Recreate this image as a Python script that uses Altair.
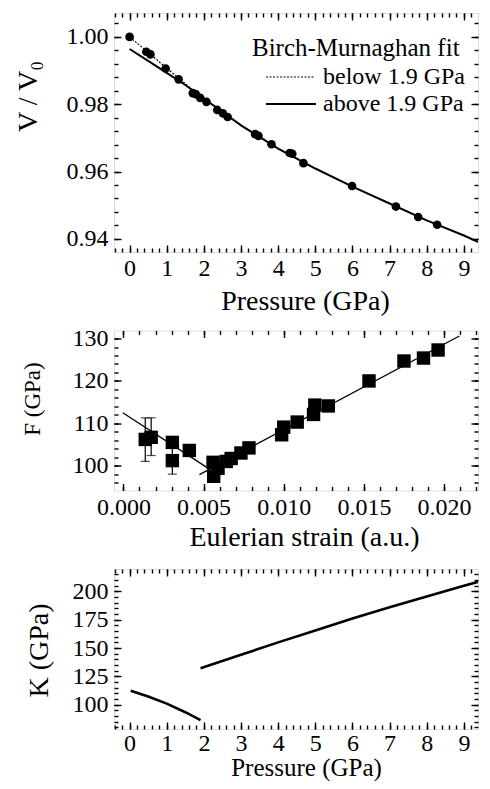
import altair as alt
import pandas as pd

FONT = "Liberation Serif"
INK = "black"

# ---------------- Panel 1: V/V0 versus pressure ----------------
p_meas = [0.00, 0.45, 0.56, 0.97, 1.32, 1.70, 1.78, 1.90, 2.07, 2.36, 2.51, 2.64,
          3.38, 3.47, 3.82, 4.31, 4.38, 4.68, 5.99, 7.17, 7.77, 8.28]
v_meas = [1.0000, 0.9956, 0.9948, 0.9906, 0.9874, 0.9833, 0.9830, 0.9819, 0.9807, 0.9783, 0.9773, 0.9762,
          0.9711, 0.9706, 0.9681, 0.9655, 0.9653, 0.9625, 0.9557, 0.9496, 0.9465, 0.9442]
p_fit_below = [0.0, 0.5, 1.0, 1.5, 1.9]
v_fit_below = [1.0000, 0.9954, 0.9907, 0.9861, 0.9822]
p_fit_above = [0.0, 0.5, 1.0, 1.5, 2.0, 3.0, 4.0, 5.0, 6.0, 7.0, 8.0, 9.0, 9.4]
v_fit_above = [0.9964, 0.9929, 0.9893, 0.9857, 0.9817, 0.9737, 0.9668, 0.9609, 0.9555, 0.9505, 0.9455, 0.9410, 0.9390]

# ---------------- Panel 2: F versus Eulerian strain ----------------
strain = [0.00136, 0.00173, 0.00305, 0.00305, 0.00411, 0.00559, 0.00563, 0.00590, 0.00641, 0.00672,
          0.00733, 0.00783, 0.00987, 0.01000, 0.01084, 0.01186, 0.01194, 0.01278, 0.01532, 0.01750,
          0.01872, 0.01963]
f_norm = [106.2, 106.7, 105.5, 101.2, 103.6, 100.8, 97.5, 99.4, 101.0, 101.7,
          103.0, 104.2, 107.3, 109.1, 110.3, 112.1, 114.3, 114.1, 120.0, 124.7,
          125.4, 127.3]
err_strain = [0.00136, 0.00173, 0.00305]
err_low = [101.0, 102.4, 98.0]
err_high = [111.3, 111.3, 104.4]
fit_left_strain = [-0.00004, 0.00520]
fit_left_f = [112.5, 99.6]
fit_right_strain = [0.00474, 0.02096]
fit_right_f = [97.9, 130.6]

# ---------------- Panel 3: K versus pressure ----------------
p_k_below = [0.03, 0.5, 1.0, 1.5, 1.91]
k_below = [112.3, 107.2, 101.0, 93.4, 86.5]
p_k_above = [1.91, 3.0, 4.0, 5.0, 6.0, 7.0, 8.0, 9.0, 9.4]
k_above = [132.1, 144.0, 155.0, 165.5, 176.0, 186.0, 195.5, 205.0, 208.6]

def inside(vals, dom):
    return [v for v in vals if dom[0] <= v <= dom[1]]

def steps(start, stop, step, nd):
    out, i = [], 0
    while True:
        v = round(start + i * step, nd)
        if v > stop + 1e-12:
            break
        out.append(v)
        i += 1
    return out

W = 364
H1, H2, H3 = 239, 160, 160
MAJ, MIN = 7, 4

def label_axis(orient, values, fmt, title, tsize, tx, ty, lpad):
    return alt.Axis(orient=orient, values=values, format=fmt, ticks=False, domain=False, grid=False,
                    labelFont=FONT, labelFontSize=24, labelColor=INK, labelPadding=lpad,
                    labelOverlap=False, labelFlush=False, minExtent=0,
                    title=title, titleFont=FONT, titleFontSize=tsize, titleFontWeight="normal",
                    titleColor=INK, titleX=tx, titleY=ty, titleAlign="center", titleBaseline="middle",
                    titleAngle=270 if orient == "left" else 0)

def tick_axis(side, values, size, h):
    # inward ticks: every tick axis sits on the bottom or left side and is moved into place
    if side == "bottom":
        orient, off = "bottom", -size
    elif side == "top":
        orient, off = "bottom", -h
    elif side == "left":
        orient, off = "left", -size
    else:
        orient, off = "left", -W
    return alt.Axis(orient=orient, values=values, ticks=True, tickSize=size, tickWidth=1.4,
                    tickColor=INK, offset=off, labels=False, domain=False, grid=False, title=None,
                    minExtent=0, maxExtent=size)

# ---------------- Panel 1 ----------------
xd1 = [-0.42, 9.38]
yd1 = [0.9361, 1.0071]
xs1 = alt.Scale(domain=xd1, nice=False, zero=False)
ys1 = alt.Scale(domain=yd1, nice=False, zero=False)
p_major = list(range(0, 10))
p_minor = inside(steps(-0.4, 9.4, 0.2, 1), xd1)
v_major = [0.94, 0.96, 0.98, 1.00]
v_minor = inside(steps(0.936, 1.008, 0.004, 3), yd1)

df_meas = pd.DataFrame({"P": p_meas, "V": v_meas})
df_below = pd.DataFrame({"P": p_fit_below, "V": v_fit_below})
df_above = pd.DataFrame({"P": p_fit_above, "V": v_fit_above})
one = pd.DataFrame({"k": [0]})

l1_above = alt.Chart(df_above).mark_line(color=INK, strokeWidth=2, clip=True).encode(
    x=alt.X("P:Q", scale=xs1, axis=tick_axis("bottom", p_major, MAJ, H1)),
    y=alt.Y("V:Q", scale=ys1, axis=tick_axis("left", v_major, MAJ, H1)))
l1_below = alt.Chart(df_below).mark_line(color=INK, strokeWidth=1.2, strokeDash=[2, 1.5], clip=True).encode(
    x=alt.X("P:Q", scale=xs1, axis=tick_axis("top", p_major, MAJ, H1)),
    y=alt.Y("V:Q", scale=ys1, axis=tick_axis("right", v_major, MAJ, H1)))
l1_pts = alt.Chart(df_meas).mark_circle(size=75, color=INK, opacity=1).encode(
    x=alt.X("P:Q", scale=xs1, axis=label_axis("bottom", p_major, "d", "Pressure  (GPa)", 28, 191, 49, 4)),
    y=alt.Y("V:Q", scale=ys1, axis=label_axis("left", v_major, ".2f", "V / V₀", 28, -85.5, 83, 6)))
l1_inv_a = alt.Chart(df_meas).mark_point(opacity=0).encode(
    x=alt.X("P:Q", scale=xs1, axis=tick_axis("bottom", p_minor, MIN, H1)),
    y=alt.Y("V:Q", scale=ys1, axis=tick_axis("left", v_minor, MIN, H1)))
l1_inv_b = alt.Chart(df_meas).mark_point(opacity=0).encode(
    x=alt.X("P:Q", scale=xs1, axis=tick_axis("top", p_minor, MIN, H1)),
    y=alt.Y("V:Q", scale=ys1, axis=tick_axis("right", v_minor, MIN, H1)))

leg_title = alt.Chart(one).mark_text(text="Birch-Murnaghan fit", font=FONT, fontSize=25, align="left",
                                      baseline="middle", color=INK).encode(x=alt.value(138), y=alt.value(35))
leg_t1 = alt.Chart(one).mark_text(text="below 1.9 GPa", font=FONT, fontSize=24, align="left",
                                   baseline="middle", color=INK).encode(x=alt.value(209), y=alt.value(64))
leg_t2 = alt.Chart(one).mark_text(text="above 1.9 GPa", font=FONT, fontSize=24, align="left",
                                   baseline="middle", color=INK).encode(x=alt.value(209), y=alt.value(91))
leg_r1 = alt.Chart(one).mark_rule(color=INK, strokeWidth=1.2, strokeDash=[2, 1.5]).encode(
    x=alt.value(152), x2=alt.value(200), y=alt.value(64))
leg_r2 = alt.Chart(one).mark_rule(color=INK, strokeWidth=2).encode(
    x=alt.value(152), x2=alt.value(202), y=alt.value(91))

panel1 = alt.layer(l1_above, l1_below, l1_pts, l1_inv_a, l1_inv_b,
                   leg_title, leg_t1, leg_t2, leg_r1, leg_r2).resolve_scale(
    x="shared", y="shared").resolve_axis(x="independent", y="independent").properties(width=W, height=H1)

# ---------------- Panel 2 ----------------
xd2 = [-0.00059, 0.02212]
yd2 = [94.15, 131.9]
xs2 = alt.Scale(domain=xd2, nice=False, zero=False)
ys2 = alt.Scale(domain=yd2, nice=False, zero=False)
e_major = [0.0, 0.005, 0.010, 0.015, 0.020]
e_minor = inside(steps(0.0, 0.022, 0.001, 3), xd2)
f_major = [100, 110, 120, 130]
f_minor = inside(steps(96, 130, 2, 0), yd2)

df_sq = pd.DataFrame({"e": strain, "F": f_norm})
df_err = pd.DataFrame({"e": err_strain, "lo": err_low, "hi": err_high})
df_cap = pd.DataFrame({"e": err_strain + err_strain, "F": err_low + err_high})
df_fit2 = pd.DataFrame({"e": fit_left_strain + fit_right_strain, "F": fit_left_f + fit_right_f,
                        "seg": ["a", "a", "b", "b"]})

l2_fit = alt.Chart(df_fit2).mark_line(color=INK, strokeWidth=1.3, clip=True).encode(
    x=alt.X("e:Q", scale=xs2, axis=tick_axis("bottom", e_minor, MIN, H2)),
    y=alt.Y("F:Q", scale=ys2, axis=tick_axis("left", f_minor, MIN, H2)),
    detail="seg:N")
l2_err = alt.Chart(df_err).mark_rule(color=INK, strokeWidth=1.2).encode(
    x=alt.X("e:Q", scale=xs2, axis=tick_axis("bottom", e_major, MAJ, H2)),
    y=alt.Y("lo:Q", scale=ys2, axis=tick_axis("left", f_major, MAJ, H2)),
    y2="hi:Q")
l2_cap = alt.Chart(df_cap).mark_tick(color=INK, orient="horizontal", size=9, thickness=1.2).encode(
    x=alt.X("e:Q", scale=xs2, axis=tick_axis("top", e_major, MAJ, H2)),
    y=alt.Y("F:Q", scale=ys2, axis=tick_axis("right", f_major, MAJ, H2)))
l2_sq = alt.Chart(df_sq).mark_square(size=180, color=INK, opacity=1).encode(
    x=alt.X("e:Q", scale=xs2, axis=label_axis("bottom", e_major, ".3f", "Eulerian strain (a.u.)", 28, 190, 47, 5)),
    y=alt.Y("F:Q", scale=ys2, axis=label_axis("left", f_major, "d", "F (GPa)", 23, -81.6, 68, 6)))
l2_inv = alt.Chart(df_sq).mark_point(opacity=0).encode(
    x=alt.X("e:Q", scale=xs2, axis=tick_axis("top", e_minor, MIN, H2)),
    y=alt.Y("F:Q", scale=ys2, axis=tick_axis("right", f_minor, MIN, H2)))

panel2 = alt.layer(l2_fit, l2_err, l2_cap, l2_sq, l2_inv).resolve_scale(
    x="shared", y="shared").resolve_axis(x="independent", y="independent").properties(width=W, height=H2)

# ---------------- Panel 3 ----------------
xd3 = [-0.42, 9.38]
yd3 = [78.6, 219.7]
xs3 = alt.Scale(domain=xd3, nice=False, zero=False)
ys3 = alt.Scale(domain=yd3, nice=False, zero=False)
k_major = [100, 125, 150, 175, 200]
k_minor = inside(steps(80, 215, 5, 0), yd3)

df_k = pd.DataFrame({"P": p_k_below + p_k_above, "K": k_below + k_above,
                     "seg": ["a"] * len(p_k_below) + ["b"] * len(p_k_above)})

l3_line = alt.Chart(df_k).mark_line(color=INK, strokeWidth=2.6, clip=True).encode(
    x=alt.X("P:Q", scale=xs3, axis=label_axis("bottom", p_major, "d", "Pressure  (GPa)", 25, 192, 38.5, 2)),
    y=alt.Y("K:Q", scale=ys3, axis=label_axis("left", k_major, "d", "K (GPa)", 28, -75, 81, 6)),
    detail="seg:N")
l3_a = alt.Chart(df_k).mark_point(opacity=0).encode(
    x=alt.X("P:Q", scale=xs3, axis=tick_axis("bottom", p_major, MAJ, H3)),
    y=alt.Y("K:Q", scale=ys3, axis=tick_axis("left", k_major, MAJ, H3)))
l3_b = alt.Chart(df_k).mark_point(opacity=0).encode(
    x=alt.X("P:Q", scale=xs3, axis=tick_axis("top", p_major, MAJ, H3)),
    y=alt.Y("K:Q", scale=ys3, axis=tick_axis("right", k_major, MAJ, H3)))
l3_c = alt.Chart(df_k).mark_point(opacity=0).encode(
    x=alt.X("P:Q", scale=xs3, axis=tick_axis("bottom", p_minor, MIN, H3)),
    y=alt.Y("K:Q", scale=ys3, axis=tick_axis("left", k_minor, MIN, H3)))
l3_d = alt.Chart(df_k).mark_point(opacity=0).encode(
    x=alt.X("P:Q", scale=xs3, axis=tick_axis("top", p_minor, MIN, H3)),
    y=alt.Y("K:Q", scale=ys3, axis=tick_axis("right", k_minor, MIN, H3)))

panel3 = alt.layer(l3_line, l3_a, l3_b, l3_c, l3_d).resolve_scale(
    x="shared", y="shared").resolve_axis(x="independent", y="independent").properties(width=W, height=H3)

chart = alt.vconcat(panel1, panel2, panel3, spacing=78.5, bounds="flush").properties(
    padding={"left": 6, "top": 3, "right": 0, "bottom": 0}
).configure_view(stroke=INK, strokeWidth=2).configure(font=FONT)

chart.save("out.html", embed_options={"renderer": "svg", "actions": False})
